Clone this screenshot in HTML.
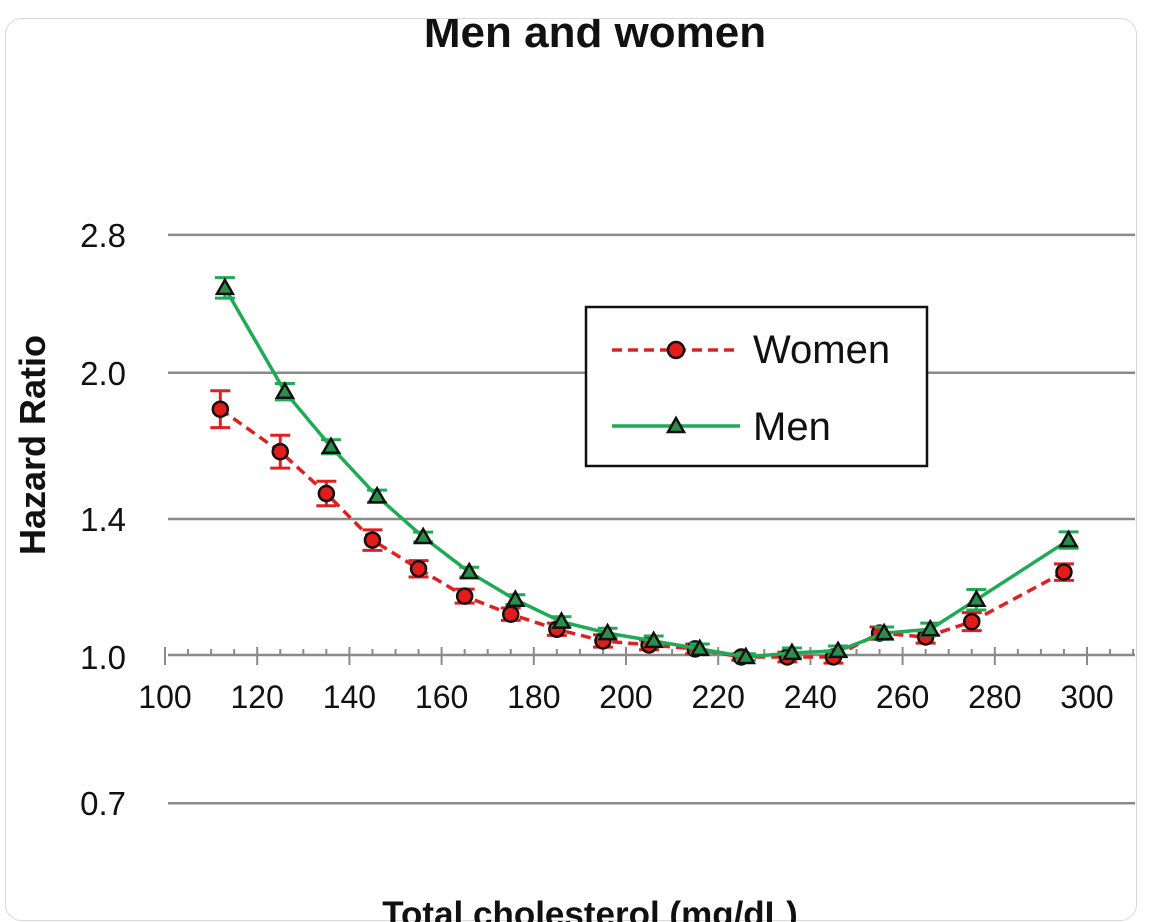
<!DOCTYPE html>
<html><head><meta charset="utf-8"><style>
html,body{margin:0;padding:0;background:#fff;width:1150px;height:922px;overflow:hidden}
svg{display:block;font-family:"Liberation Sans",Arial,sans-serif}
</style></head><body>
<svg id="c" width="1150" height="922" viewBox="0 0 1150 922">
<defs><clipPath id="tc"><rect x="0" y="19" width="1150" height="60"/></clipPath></defs>
<rect x="5.5" y="18.5" width="1131" height="902" rx="16" fill="#fff" stroke="#d8d8d8"/>
<text x="595" y="47" clip-path="url(#tc)" text-anchor="middle" font-size="44" font-weight="bold" fill="#111">Men and women</text>
<text transform="translate(45,445) rotate(-90)" text-anchor="middle" font-size="36" font-weight="bold" fill="#111">Hazard Ratio</text>
<text x="590" y="926" text-anchor="middle" font-size="35" font-weight="bold" fill="#111">Total cholesterol (mg/dL)</text>
<g id="grid"></g><g id="axis"></g><g id="series"></g>
<g>
<rect x="586" y="307" width="341" height="159" fill="#fff" stroke="#111" stroke-width="2.5"/>
<g>
<line x1="612" y1="350" x2="740" y2="350" stroke="#e02020" stroke-width="3.5" stroke-dasharray="10,6"/>
<circle cx="676" cy="350" r="8" fill="#e31b1b" stroke="#111" stroke-width="2.5"/>
<text x="753" y="363" font-size="40" fill="#111">Women</text></g>
<g>
<line x1="612" y1="426" x2="740" y2="426" stroke="#1faa55" stroke-width="3.5"/>
<path d="M676,418 L684,432 L668,432 Z" fill="#2a8f4a" stroke="#111" stroke-width="2.5"/>
<text x="753" y="440" font-size="40" fill="#111">Men</text></g>
</g>
</svg>
<script>
const xWomen=[112,125,135,145,155,165,175,185,195,205,215,225,235,245,255,265,275,295];
const yWomen=[1.83,1.65,1.49,1.33,1.24,1.16,1.11,1.07,1.04,1.03,1.02,1.0,1.0,1.0,1.06,1.05,1.09,1.23];
const errWomen=[0.045,0.04,0.03,0.025,0.02,0.017,0.015,0.015,0.015,0.012,0.012,0.008,0.012,0.015,0.015,0.015,0.022,0.02];
const xMen=[113,126,136,146,156,166,176,186,196,206,216,226,236,246,256,266,276,296];
const yMen=[2.46,1.91,1.67,1.48,1.34,1.23,1.15,1.09,1.06,1.04,1.02,1.0,1.01,1.015,1.06,1.07,1.15,1.33];
const errMen=[0.025,0.02,0.017,0.015,0.012,0.012,0.012,0.012,0.012,0.012,0.012,0.008,0.012,0.012,0.015,0.015,0.025,0.02];
const yTicks=[2.8,2.0,1.4,1.0,0.7];
const yTickLabels=["2.8","2.0","1.4","1.0","0.7"];
const xTicks=[100,120,140,160,180,200,220,240,260,280,300];
const NS="http://www.w3.org/2000/svg";
const X=v=>165+(v-100)*4.61;
const Y=v=>657-Math.log(v)*410;
function el(t,a,p){const e=document.createElementNS(NS,t);for(const k in a)e.setAttribute(k,a[k]);p.appendChild(e);return e;}
const grid=document.getElementById('grid'),axis=document.getElementById('axis'),ser=document.getElementById('series');
yTicks.forEach((v,i)=>{
 if(v!==1.0){const l=el('line',{x1:168,x2:1135,y1:Y(v),y2:Y(v),stroke:'#8a8a8a','stroke-width':2.5},grid);
 
 }
 const t=el('text',{x:126,y:Y(v)+12,'text-anchor':'end','font-size':33,fill:'#111'},grid);t.textContent=yTickLabels[i];
 
 
});
const ax=el('line',{x1:168,x2:1135,y1:655,y2:655,stroke:'#8a8a8a','stroke-width':2.5},axis);


for(let v=100;v<=310;v+=5){const maj=v%20===0;
 el('line',{x1:X(v),x2:X(v),y1:maj?647:649,y2:maj?665:655,stroke:'#8a8a8a','stroke-width':2},axis);}
xTicks.forEach(v=>{const t=el('text',{x:X(v),y:708,'text-anchor':'middle','font-size':32,fill:'#111'},axis);t.textContent=v;
 
 });
function series(xs,ys,es,col,dash,name,mk){
 const g=el('g',{},ser);
 
 
 const pts=xs.map((x,i)=>X(x)+','+Y(ys[i])).join(' ');
 el('polyline',{points:pts,fill:'none',stroke:col,'stroke-width':3.5,'stroke-dasharray':dash},g);
 xs.forEach((x,i)=>{const cx=X(x),v=ys[i],e=es[i];
  const y1=Y(v*Math.exp(e)),y2=Y(v*Math.exp(-e)),cy=Y(v);
  const bc=mk==='c'?'#e02020':'#1faa55';
  el('line',{x1:cx,x2:cx,y1:y1,y2:y2,stroke:bc,'stroke-width':3},g);
  el('line',{x1:cx-10,x2:cx+10,y1:y1,y2:y1,stroke:bc,'stroke-width':3},g);
  el('line',{x1:cx-10,x2:cx+10,y1:y2,y2:y2,stroke:bc,'stroke-width':3},g);
  let m;
  if(mk==='c')m=el('circle',{cx:cx,cy:cy,r:7.5,fill:'#e31b1b',stroke:'#111','stroke-width':2.5},g);
  else m=el('path',{d:`M${cx},${cy-8} L${cx+8},${cy+6} L${cx-8},${cy+6} Z`,fill:'#2a8f4a',stroke:'#111','stroke-width':2.5},g);
  
  
 });
}
series(xWomen,yWomen,errWomen,'#e02020','10,6','women','c');
series(xMen,yMen,errMen,'#1faa55','none','men','t');
</script>
</body></html>
